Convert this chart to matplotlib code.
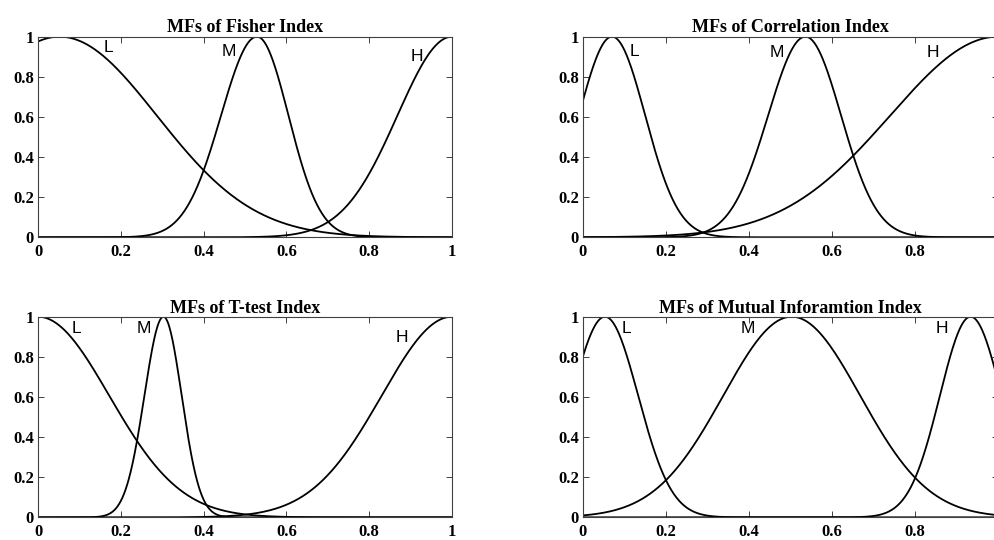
import numpy as np
import matplotlib.pyplot as plt

# Gaussian MF parameters: centre, left sigma, right sigma
titles = ["MFs of Fisher Index", "MFs of Correlation Index",
          "MFs of T-test Index", "MFs of Mutual Inforamtion Index"]
mf_names = ["L", "M", "H"]

fisher_c = [0.052, 0.529, 1.0]
fisher_sl = [0.235, 0.087, 0.132]
fisher_sr = [0.235, 0.076, 0.132]

corr_c = [0.070, 0.536, 1.0]
corr_sl = [0.080, 0.090, 0.260]
corr_sr = [0.080, 0.086, 0.260]

ttest_c = [0.0, 0.303, 1.0]
ttest_sl = [0.172, 0.046, 0.170]
ttest_sr = [0.172, 0.044, 0.170]

mutual_c = [0.053, 0.503, 0.934]
mutual_sl = [0.080, 0.165, 0.074]
mutual_sr = [0.080, 0.165, 0.075]

# label positions (data coords)
fisher_lbl = [(0.169, 0.944), (0.461, 0.924), (0.915, 0.899)]
corr_lbl = [(0.125, 0.924), (0.467, 0.920), (0.843, 0.920)]
ttest_lbl = [(0.092, 0.940), (0.256, 0.940), (0.879, 0.894)]
mutual_lbl = [(0.104, 0.940), (0.398, 0.943), (0.865, 0.943)]

panels = [
    (fisher_c, fisher_sl, fisher_sr, fisher_lbl),
    (corr_c, corr_sl, corr_sr, corr_lbl),
    (ttest_c, ttest_sl, ttest_sr, ttest_lbl),
    (mutual_c, mutual_sl, mutual_sr, mutual_lbl),
]

# axes positions in figure fraction (right column runs off the image edge)
positions = [
    [0.0382, 0.5606, 0.4161, 0.3715],
    [0.5859, 0.5606, 0.4171, 0.3715],
    [0.0382, 0.0420, 0.4161, 0.3715],
    [0.5859, 0.0420, 0.4171, 0.3715],
]

tick_font = dict(family="Liberation Serif", weight="bold", size=12)

fig = plt.figure(figsize=(9.95, 5.4), dpi=100)
x = np.linspace(0, 1, 801)

for (cs, sls, srs, lbls), pos, title in zip(panels, positions, titles):
    ax = fig.add_axes(pos)
    for c, sl, sr, name, (lx, ly) in zip(cs, sls, srs, mf_names, lbls):
        s = np.where(x < c, sl, sr)
        y = np.exp(-(x - c) ** 2 / (2 * s ** 2))
        ax.plot(x, y, color="black", lw=1.3)
        ax.text(lx, ly, name, fontsize=12.5, family="Liberation Sans",
                ha="center", va="center")

    ax.set_xlim(0, 1)
    ax.set_ylim(0, 1)
    ax.set_xticks([0, 0.2, 0.4, 0.6, 0.8, 1])
    ax.set_xticklabels(["0", "0.2", "0.4", "0.6", "0.8", "1"])
    ax.set_yticks([0, 0.2, 0.4, 0.6, 0.8, 1])
    ax.set_yticklabels(["0", "0.2", "0.4", "0.6", "0.8", "1"])
    ax.tick_params(direction="in", length=4, width=0.7, top=True, right=True,
                   color="#404040")
    ax.tick_params(axis="x", pad=5)
    ax.tick_params(axis="y", pad=3)
    for lab in ax.get_xticklabels() + ax.get_yticklabels():
        lab.set_fontproperties(tick_font)
    for sp in ax.spines.values():
        sp.set_color("#404040")
        sp.set_linewidth(0.8)
    ax.set_title(title, fontsize=13, pad=3, family="Liberation Serif",
                 weight="bold")

fig.savefig("out.png", dpi=100)
